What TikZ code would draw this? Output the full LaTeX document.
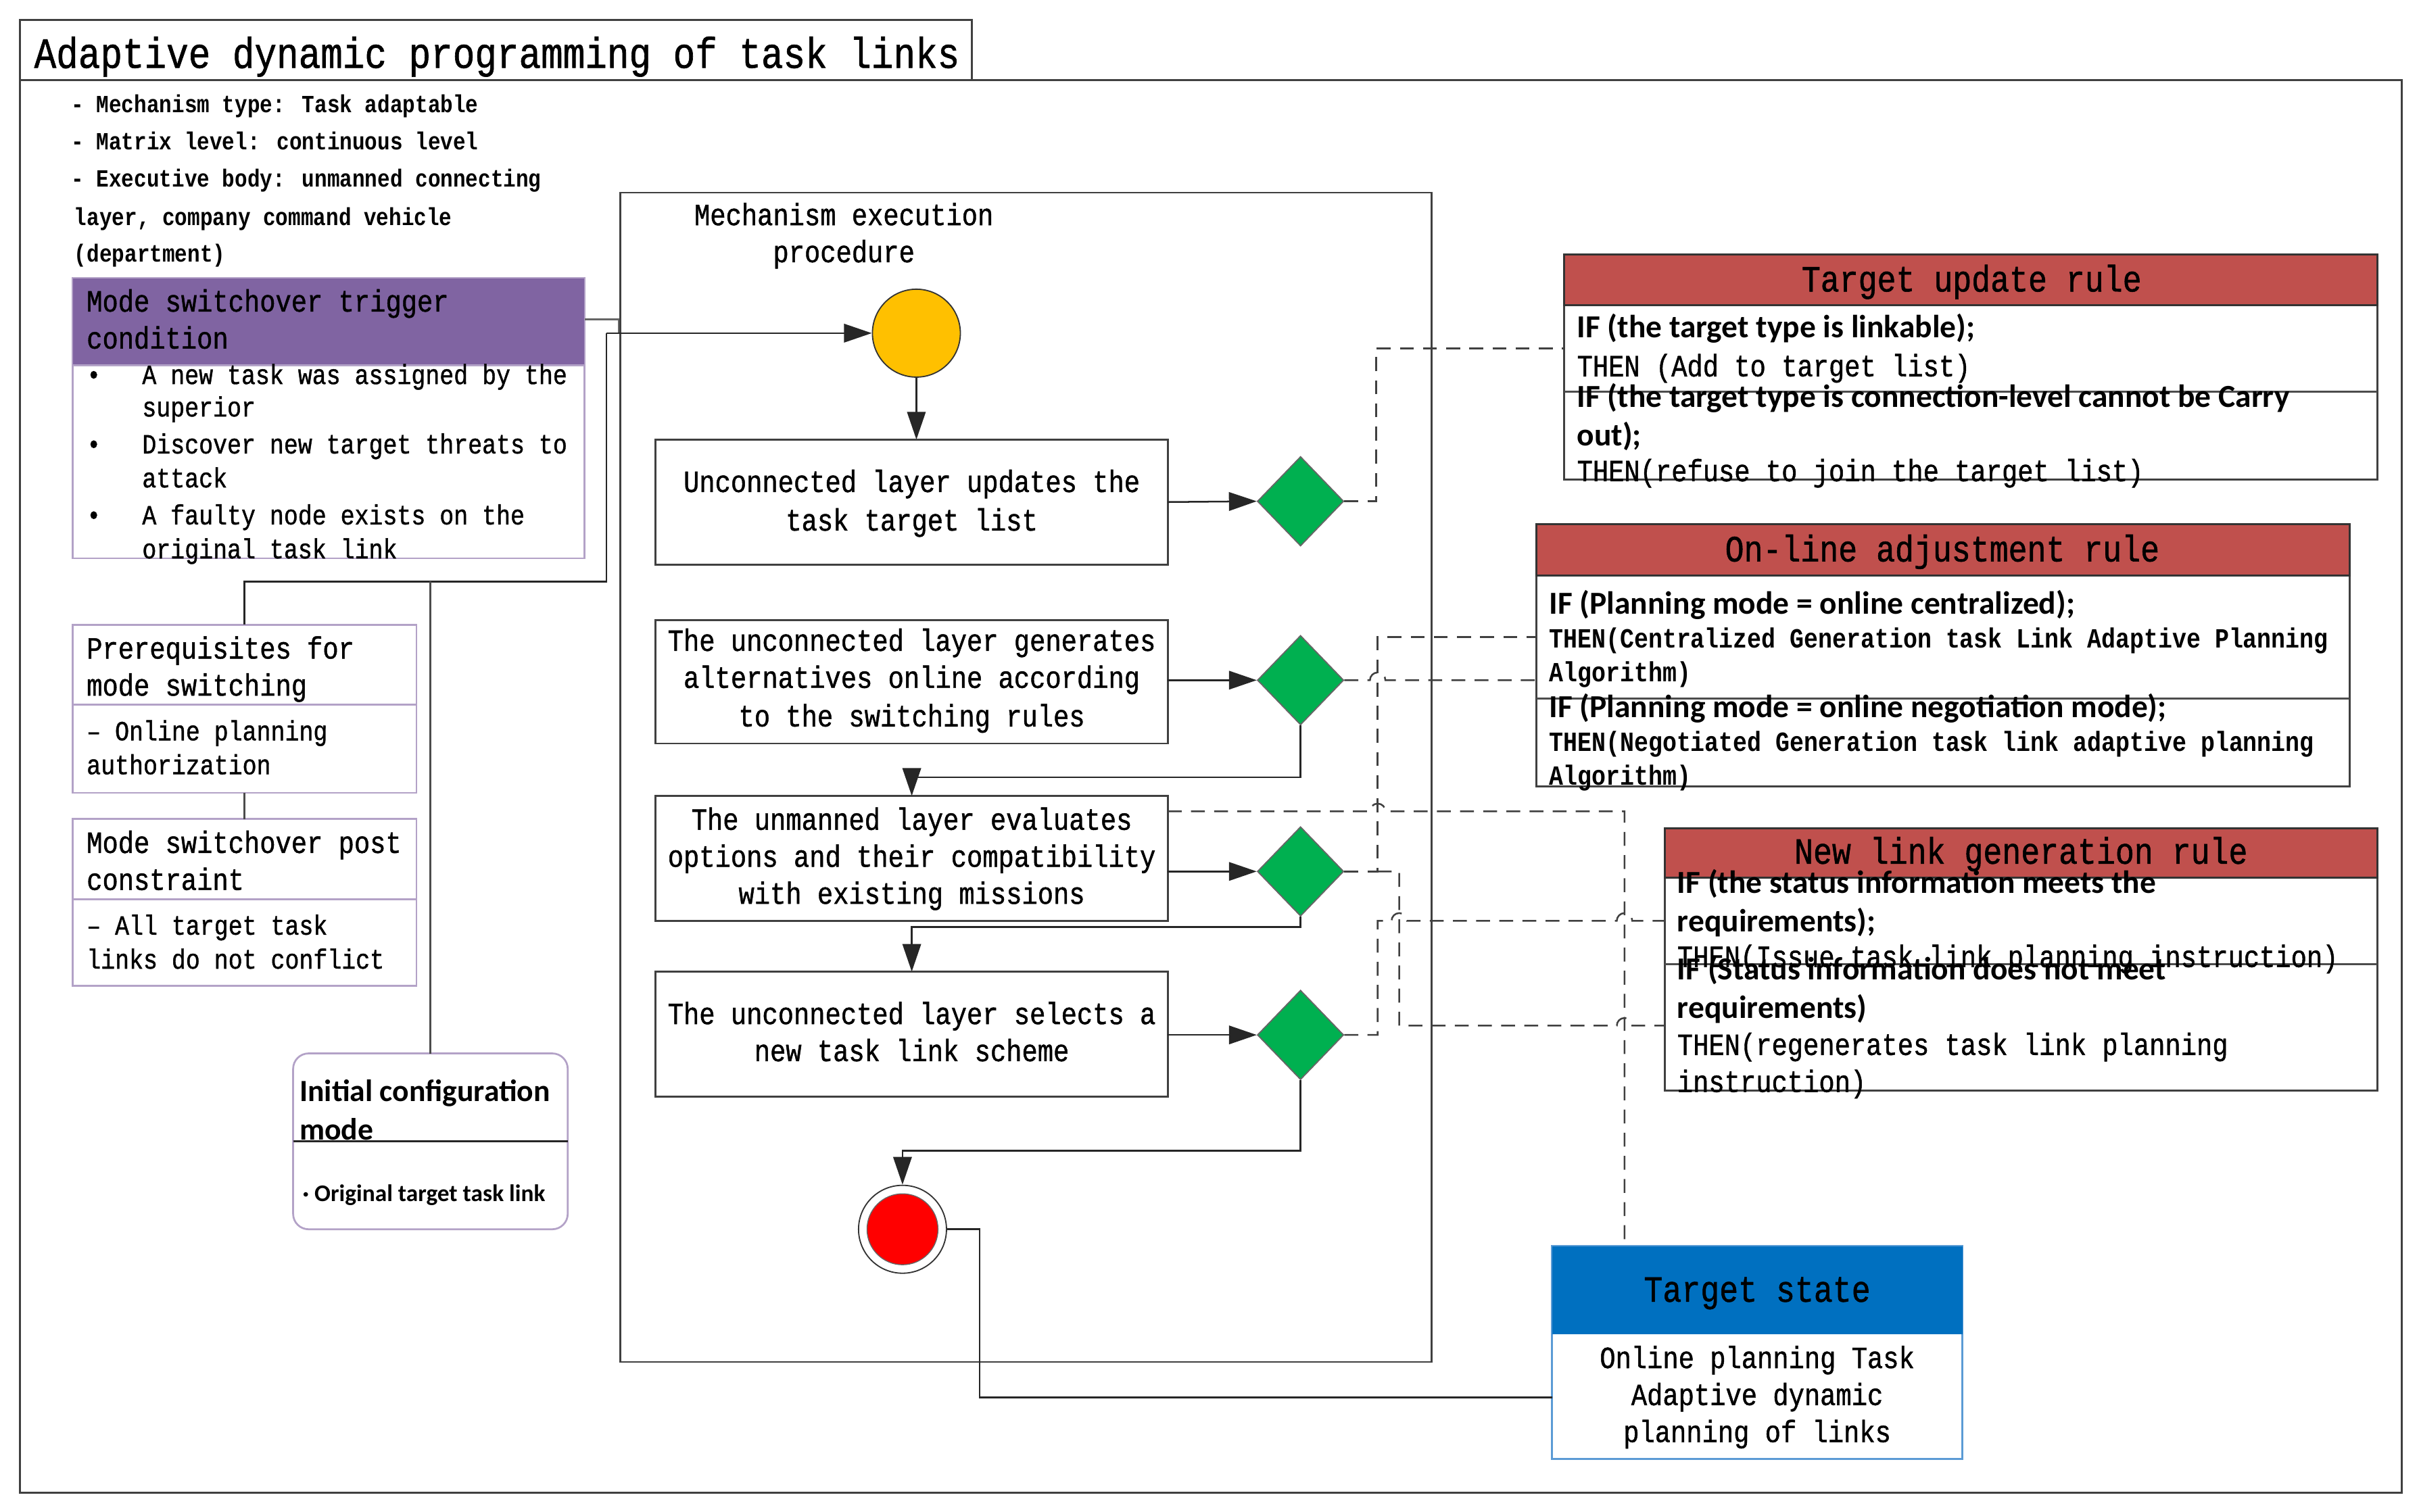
\documentclass[tikz,border=0pt]{standalone}
\usepackage{fontspec}
\setmainfont{Liberation Serif}
\newfontfamily\mymono[FakeStretch=0.85, UprightFeatures={FakeBold=1}]{Liberation Mono}
\newfontfamily\mycal{Carlito}
\usetikzlibrary{shapes.geometric,arrows.meta}
\definecolor{purp}{HTML}{8064A2}
\definecolor{lpurp}{HTML}{B3A2C7}
\definecolor{rulered}{HTML}{C0504D}
\definecolor{tblue}{HTML}{0070C0}
\definecolor{lblue}{HTML}{5B9BD5}
\definecolor{gold}{HTML}{FFC000}
\definecolor{dgreen}{HTML}{00B050}
\newcommand\myfs[1]{\fontsize{#1pt}{#1pt}\selectfont}
\tikzset{
  rect/.style={rectangle, inner sep=0pt, outer sep=0pt, anchor=north west},
  frame/.style={rect, draw=black!75, line width=1.3pt},
  ln/.style={anchor=base west, inner sep=0pt},
  lc/.style={anchor=base, inner sep=0pt},
  ftitle/.style={font=\mymono\myfs{28}},
  fhead/.style={font=\mymono\bfseries\myfs{16}},
  ftw/.style={font=\mymono\myfs{20}},
  fei/.style={font=\mymono\myfs{18}},
  feib/.style={font=\mymono\bfseries\myfs{18}},
  ftf/.style={font=\mymono\myfs{24}},
  fcal/.style={font=\mycal\bfseries\myfs{20.8}},
  fcali/.style={font=\mycal\bfseries\myfs{20}},
  fcals/.style={font=\mycal\bfseries\myfs{15.5}},
  conn/.style={draw=black!85, line width=1.1pt},
  arr/.style={conn, -{Triangle[length=18pt,width=12pt]}},
  dsh/.style={draw=black!75, line width=1.1pt, dash pattern=on 9pt off 6pt},
  dia/.style={diamond, fill=dgreen, draw=black!60, line width=0.8pt, minimum width=56pt, minimum height=58pt, inner sep=0pt},
}
\begin{document}
\begin{tikzpicture}[x=1pt,y=-1pt]
\useasboundingbox (0,0) rectangle (1568,980);
\fill[white] (0,0) rectangle (1568,980);

% frames
\node[frame, minimum width=1544pt, minimum height=916pt] (outer) at (13,52) {};
\node[frame, minimum width=617pt, minimum height=39pt] (titlebox) at (13,13) {};
\node[ln, ftitle] (title) at (22,44) {Adaptive dynamic programming of task links};

% header notes
\node[ln, fhead] (n1) at (46,73) {- Mechanism type: Task adaptable};
\node[ln, fhead] (n2) at (46,97) {- Matrix level: continuous level};
\node[ln, fhead] (n3) at (46,121) {- Executive body: unmanned connecting};
\node[ln, fhead] (n4) at (48,146) {layer, company command vehicle};
\node[ln, fhead] (n5) at (48,170) {(department)};

% trigger box
\node[rect, fill=purp, draw=lpurp, line width=1pt, minimum width=332pt, minimum height=57pt] (trig) at (47,180) {};
\node[rect, draw=lpurp, line width=1.2pt, minimum width=332pt, minimum height=125pt] (trigb) at (47,237) {};
\node[ln, ftw] (tg1) at (56,202) {Mode switchover trigger};
\node[ln, ftw] (tg2) at (56,226) {condition};
\node[ln, fei] (bu1) at (56,249) {•};
\node[ln, fei] (bu2) at (56,294) {•};
\node[ln, fei] (bu3) at (56,340) {•};
\node[ln, fei] (tb1) at (92,249) {A new task was assigned by the};
\node[ln, fei] (tb2) at (92,270) {superior};
\node[ln, fei] (tb3) at (92,294) {Discover new target threats to};
\node[ln, fei] (tb4) at (92,316) {attack};
\node[ln, fei] (tb5) at (92,340) {A faulty node exists on the};
\node[ln, fei] (tb6) at (92,362) {original task link};

% prerequisites
\node[rect, draw=lpurp, line width=1.2pt, minimum width=223pt, minimum height=109pt] (pre) at (47,405) {};
\draw[draw=lpurp, line width=1.2pt] (pre.west |- 0,457) -- (pre.east |- 0,457);
\node[ln, ftw] (pr1) at (56,427) {Prerequisites for};
\node[ln, ftw] (pr2) at (56,451) {mode switching};
\node[ln, fei] (pr3) at (56,480) {– Online planning};
\node[ln, fei] (pr4) at (56,502) {authorization};

% post constraint
\node[rect, draw=lpurp, line width=1.2pt, minimum width=223pt, minimum height=108pt] (post) at (47,531) {};
\draw[draw=lpurp, line width=1.2pt] (post.west |- 0,583) -- (post.east |- 0,583);
\node[ln, ftw] (po1) at (56,553) {Mode switchover post};
\node[ln, ftw] (po2) at (56,577) {constraint};
\node[ln, fei] (po3) at (56,606) {– All target task};
\node[ln, fei] (po4) at (56,628) {links do not conflict};

% initial configuration
\node[rect, draw=lpurp, line width=1.2pt, rounded corners=10pt, minimum width=178pt, minimum height=114pt] (ic) at (190,683) {};
\draw[conn, line width=1pt] (ic.west |- 0,740) -- (ic.east |- 0,740);
\node[ln, fcali] (ic1) at (194,714) {Initial configuration};
\node[ln, fcali] (ic2) at (194,739) {mode};
\node[ln, fcals] (ic3) at (196,779) {· Original target task link};

% mechanism box
\node[frame, line width=1.1pt, minimum width=526pt, minimum height=758pt] (mech) at (402,125) {};
\node[lc, ftw] (me1) at (547,146) {Mechanism execution};
\node[lc, ftw] (me2) at (547,170) {procedure};

\node[circle, fill=gold, draw=black!80, line width=0.8pt, minimum size=57pt, inner sep=0pt] (start) at (594,216) {};

\node[rect, draw=black!75, line width=1.2pt, minimum width=332pt, minimum height=81pt] (b1) at (425,285) {};
\node[lc, ftw] (b1a) at (591,319) {Unconnected layer updates the};
\node[lc, ftw] (b1b) at (591,344) {task target list};
\node[rect, draw=black!75, line width=1.2pt, minimum width=332pt, minimum height=80pt] (b2) at (425,402) {};
\node[lc, ftw] (b2a) at (591,422) {The unconnected layer generates};
\node[lc, ftw] (b2b) at (591,446) {alternatives online according};
\node[lc, ftw] (b2c) at (591,471) {to the switching rules};
\node[rect, draw=black!75, line width=1.2pt, minimum width=332pt, minimum height=81pt] (b3) at (425,516) {};
\node[lc, ftw] (b3a) at (591,538) {The unmanned layer evaluates};
\node[lc, ftw] (b3b) at (591,562) {options and their compatibility};
\node[lc, ftw] (b3c) at (591,586) {with existing missions};
\node[rect, draw=black!75, line width=1.2pt, minimum width=332pt, minimum height=81pt] (b4) at (425,630) {};
\node[lc, ftw] (b4a) at (591,664) {The unconnected layer selects a};
\node[lc, ftw] (b4b) at (591,688) {new task link scheme};

\node[dia] (d1) at (843,325) {};
\node[dia] (d2) at (843,441) {};
\node[dia] (d3) at (843,565) {};
\node[dia] (d4) at (843,671) {};

\node[circle, draw=black!80, line width=0.8pt, fill=white, minimum size=57pt, inner sep=0pt] (endo) at (585,797) {};
\node[circle, draw=black!60, line width=0.6pt, fill=red, minimum size=46pt, inner sep=0pt] (endi) at (585,797) {};

% target state
\node[rect, draw=lblue, line width=1.2pt, fill=white, minimum width=266pt, minimum height=138pt] (ts) at (1006,808) {};
\node[rect, fill=tblue, minimum width=266pt, minimum height=57pt] (tsh) at (1006,808) {};
\node[lc, ftf] (ts1) at (1139,844) {Target state};
\node[lc, ftw] (ts2) at (1139,887) {Online planning Task};
\node[lc, ftw] (ts3) at (1139,911) {Adaptive dynamic};
\node[lc, ftw] (ts4) at (1139,935) {planning of links};

% rule boxes
\node[rect, draw=black!75, line width=1.3pt, fill=white, minimum width=527pt, minimum height=113pt] (tu) at (1014,198) {};
\node[rect, fill=rulered, draw=black!80, line width=1.3pt, minimum width=527pt, minimum height=33pt] (tuh) at (1014,165) {};
\draw[draw=black!70, line width=1.3pt] (tu.west |- 0,254) -- (tu.east |- 0,254);
\node[lc, ftf] (tut) at (1278,189) {Target update rule};
\node[ln, fcal] (tu1) at (1022,219) {IF (the target type is linkable);};
\node[ln, ftw] (tu2) at (1022,244) {THEN (Add to target list)};
\node[ln, fcal] (tu3) at (1022,264) {IF (the target type is connection-level cannot be Carry};
\node[ln, fcal] (tu4) at (1022,289) {out);};
\node[ln, ftw] (tu5) at (1022,312) {THEN(refuse to join the target list)};

\node[rect, draw=black!75, line width=1.3pt, fill=white, minimum width=527pt, minimum height=137pt] (ol) at (996,373) {};
\node[rect, fill=rulered, draw=black!80, line width=1.3pt, minimum width=527pt, minimum height=33pt] (olh) at (996,340) {};
\draw[draw=black!70, line width=1.3pt] (ol.west |- 0,453) -- (ol.east |- 0,453);
\node[lc, ftf] (olt) at (1259,364) {On-line adjustment rule};
\node[ln, fcal] (ol1) at (1004,398) {IF (Planning mode = online centralized);};
\node[ln, feib] (ol2) at (1004,420) {THEN(Centralized Generation task Link Adaptive Planning};
\node[ln, feib] (ol3) at (1004,442) {Algorithm)};
\node[ln, fcal] (ol4) at (1004,465) {IF (Planning mode = online negotiation mode);};
\node[ln, feib] (ol5) at (1004,487) {THEN(Negotiated Generation task link adaptive planning};
\node[ln, feib] (ol6) at (1004,509) {Algorithm)};

\node[rect, draw=black!75, line width=1.3pt, fill=white, minimum width=462pt, minimum height=138pt] (nl) at (1079,569) {};
\node[rect, fill=rulered, draw=black!80, line width=1.3pt, minimum width=462pt, minimum height=32pt] (nlh) at (1079,537) {};
\draw[draw=black!70, line width=1.3pt] (nl.west |- 0,625) -- (nl.east |- 0,625);
\node[lc, ftf] (nlt) at (1310,560) {New link generation rule};
\node[ln, fcal] (nl1) at (1087,579) {IF (the status information meets the};
\node[ln, fcal] (nl2) at (1087,604) {requirements);};
\node[ln, ftw] (nl3) at (1087,627) {THEN(Issue task link planning instruction)};
\node[ln, fcal] (nl4) at (1087,635) {IF (Status information does not meet};
\node[ln, fcal] (nl5) at (1087,660) {requirements)};
\node[ln, ftw] (nl6) at (1087,684) {THEN(regenerates task link planning};
\node[ln, ftw] (nl7) at (1087,708) {instruction)};

% left-side connectors
\coordinate (j1) at (393,216);
\coordinate (j2) at (393,377);
\draw[conn, draw=black!60] (trig.east |- 0,207) -- (401,207) -- (401,216);
\draw[arr] (j1) -- (start.west);
\draw[conn] (j1) -- (j2) -- (pre.north |- j2) -- (pre.north);
\draw[conn, draw=black!70] (ic.north |- j2) -- (ic.north);
\draw[conn, draw=black!70] (pre.south) -- (post.north);

% procedure flow
\draw[arr] (start.south) -- (start.south |- b1.north);
\draw[arr] (b1.east) -- (d1.west);
\draw[arr] (b2.east |- d2) -- (d2.west);
\draw[arr] (b3.east |- d3) -- (d3.west);
\draw[arr] (b4.east |- d4) -- (d4.west);
\draw[arr] (d2.south) -- (d2.south |- 0,504) -- (b3.north |- 0,504) -- (b3.north);
\draw[arr] (d3.south) -- (d3.south |- 0,601) -- (b4.north |- 0,601) -- (b4.north);
\draw[arr] (d4.south) -- (d4.south |- 0,746) -- (endo.north |- 0,746) -- (endo.north);
\draw[conn] (endo.east) -- (endo.east -| 635,0) -- (635,906) -- (ts.west |- 0,906);

% dashed rule links
\draw[dsh] (d1.east) -- (892,325) -- (892,226) -- (tu.west |- 0,226);
\draw[dsh] (d2.east) -- (888,441) arc[start angle=180, end angle=360, radius=5] -- (ol.west |- 0,441);
\draw[dsh] (d3.east) -- (893,565) -- (893,413) -- (ol.west |- 0,413);
\draw[dsh] (893,565) -- (907,565) -- (907,665) -- (1048,665) arc[start angle=180, end angle=360, radius=5] -- (nl.west |- 0,665);
\draw[dsh] (d4.east) -- (893,671) -- (893,597) -- (902,597) arc[start angle=180, end angle=360, radius=5] -- (1048,597) arc[start angle=180, end angle=360, radius=5] -- (nl.west |- 0,597);
\draw[dsh] (b3.east |- 0,526) -- (888,526) arc[start angle=180, end angle=360, radius=5] -- (1053,526) -- (1053,0 |- ts.north);
\end{tikzpicture}
\end{document}
